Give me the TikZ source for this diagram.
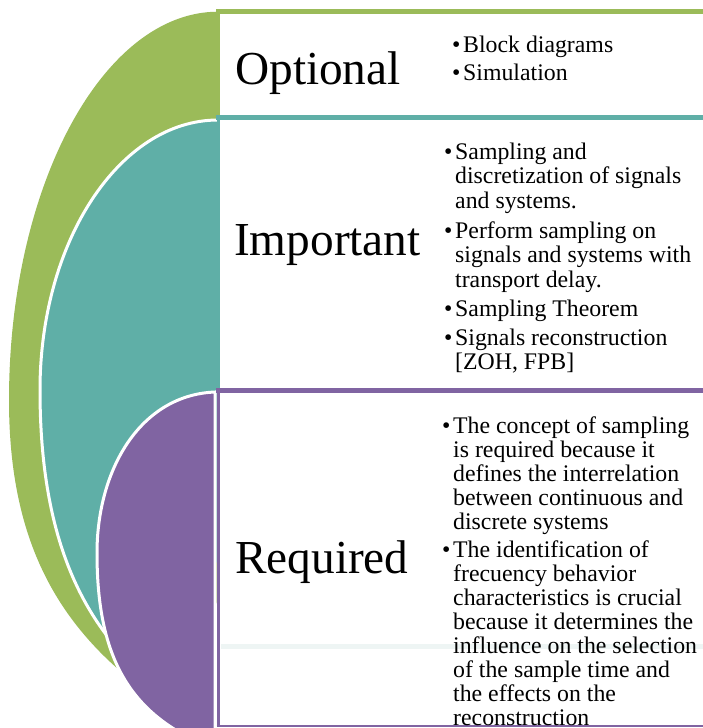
\documentclass[tikz,border=0pt]{standalone}
\usepackage{fontspec}
\setmainfont{Liberation Serif}
\usepackage{graphicx}
\definecolor{cgreen}{HTML}{9BBB59}
\definecolor{cteal}{HTML}{5FAFA7}
\definecolor{cpurple}{HTML}{8064A2}
\definecolor{cfaint}{HTML}{EEF5F4}
\newcommand{\btxt}[2]{\parbox[t]{#1}{\raggedright\fontsize{23.8}{24.6}\selectfont #2}}
\begin{document}
\begin{tikzpicture}[x=1pt,y=-1pt,
  titletxt/.style={anchor=base west, inner sep=0, font=\fontsize{47.3}{50}\selectfont},
  bultxt/.style={anchor=base west, inner sep=0},
  buldot/.style={anchor=base west, inner sep=0, font=\fontsize{23.8}{24}\selectfont},
  whiteline/.style={draw=white, line width=3}]
\useasboundingbox (0,0) rectangle (703,728);
\clip (0,0) rectangle (703,728);
% arc shapes
\fill[cgreen] (218,11.7) .. controls (103,11.7) and (9,186) .. (9,400)
  .. controls (9,545) and (60,635) .. (165,705) -- (218,600) -- cycle;
\fill[cteal] (218,120) .. controls (120,120) and (40,241) .. (40,390)
  .. controls (40,525) and (75,612) .. (140,672) -- (218,560) -- cycle;
\draw[whiteline] (218,120) .. controls (120,120) and (40,241) .. (40,390)
  .. controls (40,525) and (75,612) .. (140,672);
\filldraw[fill=cpurple, whiteline] (215,392) .. controls (140,395) and (97,470) .. (97,553)
  .. controls (97,650) and (125,705) .. (190,738) -- (215,738) -- cycle;
% faint line
\draw[cfaint, line width=5] (221,646.5) -- (703,646.5);
% boxes
\draw[cgreen, line width=3.5] (218.5,11.7) -- (218.5,117.5);
\draw[cgreen, line width=4.5] (216,11.7) -- (703,11.7);
\draw[cteal, line width=3.5] (218.5,117.5) -- (218.5,390);
\draw[cteal, line width=5] (216,117.5) -- (703,117.5);
\draw[cpurple, line width=3.5] (218.5,390) -- (218.5,726);
\draw[cpurple, line width=2] (216.5,726) -- (703,726);
\draw[cpurple, line width=5] (216,390) -- (703,390);
% titles
\node[titletxt] (opt) at (235,84) {Optional};
\node[titletxt] (imp) at (234,255) {Important};
\node[titletxt] (req) at (235,573) {Required};
% optional bullets
\node[buldot] (od1) at (452,52) {•};
\node[bultxt] (ot1) at (463,52) {\btxt{240pt}{Block diagrams}};
\node[buldot] (od2) at (452,80) {•};
\node[bultxt] (ot2) at (463,80) {\btxt{240pt}{Simulation}};
% important bullets
\node[buldot] (id1) at (444,159) {•};
\node[bultxt] (it1) at (455,159) {\btxt{248pt}{Sampling and\\discretization of signals\\and systems.}};
\node[buldot] (id2) at (444,238) {•};
\node[bultxt] (it2) at (455,238) {\btxt{248pt}{Perform sampling on\\signals and systems with\\transport delay.}};
\node[buldot] (id3) at (444,316) {•};
\node[bultxt] (it3) at (455,316) {\btxt{248pt}{Sampling Theorem}};
\node[buldot] (id4) at (444,345) {•};
\node[bultxt] (it4) at (455,345) {\btxt{248pt}{Signals reconstruction\\{[ZOH, FPB]}}};
% required bullets
\node[buldot] (rd1) at (442,433) {•};
\node[bultxt] (rt1) at (453,433) {\parbox[t]{250pt}{\raggedright\fontsize{23.8}{24.2}\selectfont The concept of sampling\\is required because it\\defines the interrelation\\between continuous and\\discrete systems}};
\node[buldot] (rd2) at (442,557) {•};
\node[bultxt] (rt2) at (453,557) {\parbox[t]{250pt}{\raggedright\fontsize{23.8}{24}\selectfont The identification of\\frecuency behavior\\characteristics is crucial\\because it determines the\\influence on the selection\\of the sample time and\\the effects on the\\reconstruction}};
\end{tikzpicture}
\end{document}
